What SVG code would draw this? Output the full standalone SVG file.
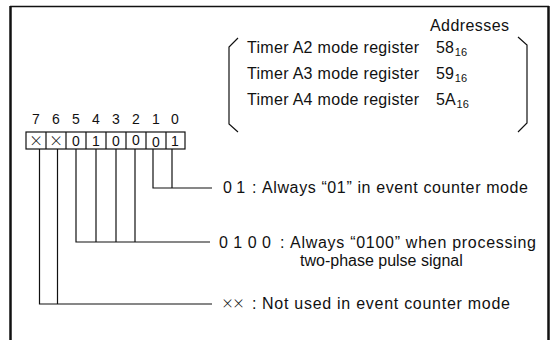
<svg xmlns="http://www.w3.org/2000/svg" width="556" height="340" viewBox="0 0 556 340">
<style>
  text { font-family: "Liberation Sans", Arial, sans-serif; fill: #111; }
  .t { font-size: 16px; }
  .sub { font-size: 11px; }
  .bit { font-size: 14px; text-anchor: middle; }
  .x { font-family: "Lato", "DejaVu Sans", sans-serif; font-weight: 300; font-size: 21px; text-anchor: middle; }
  .ln { stroke: #111; stroke-width: 1.2; fill: none; }
  .frame { stroke: #111; fill: none; }
</style>
<rect width="556" height="340" fill="#fff"/>
<g id="frame">
  <line class="frame" x1="10" y1="6.5" x2="549" y2="6.5" stroke-width="1.5"/>
  <line class="frame" x1="10.5" y1="6" x2="10.5" y2="340" stroke-width="2.5"/>
  <line class="frame" x1="548.5" y1="6" x2="548.5" y2="340" stroke-width="2.5"/>
</g>
<g id="addresses">
  <text class="t" x="430" y="31" textLength="79" lengthAdjust="spacing">Addresses</text>
  <path class="ln" d="M238,38 L229,47 L229,124 L238,132"/>
  <path class="ln" d="M518,37 L527,45 L527,123 L518,132"/>
  <text class="t" x="247" y="53" textLength="172" lengthAdjust="spacing">Timer A2 mode register</text>
  <text class="t" x="436" y="53">58<tspan class="sub" dx="1" dy="3">16</tspan></text>
  <text class="t" x="247" y="79" textLength="172" lengthAdjust="spacing">Timer A3 mode register</text>
  <text class="t" x="436" y="79">59<tspan class="sub" dx="1" dy="3">16</tspan></text>
  <text class="t" x="247" y="105" textLength="172" lengthAdjust="spacing">Timer A4 mode register</text>
  <text class="t" x="436" y="105">5A<tspan class="sub" dx="1" dy="3">16</tspan></text>
</g>
<g id="register">
  <text class="bit" x="36" y="124">7</text>
  <text class="bit" x="56" y="124">6</text>
  <text class="bit" x="76" y="124">5</text>
  <text class="bit" x="96" y="124">4</text>
  <text class="bit" x="116" y="124">3</text>
  <text class="bit" x="136" y="124">2</text>
  <text class="bit" x="156" y="124">1</text>
  <text class="bit" x="175" y="124">0</text>
  <rect class="ln" x="26" y="132" width="159" height="17"/>
  <path class="ln" d="M46,132 V149 M66,132 V149 M86,132 V149 M106,132 V149 M126,132 V149 M146,132 V149 M166,132 V149"/>
  <text class="x" x="36" y="147.5">×</text>
  <text class="x" x="56" y="147.5">×</text>
  <text class="bit" x="76" y="146">0</text>
  <text class="bit" x="96" y="146">1</text>
  <text class="bit" x="116" y="146">0</text>
  <text class="bit" x="136" y="145">0</text>
  <text class="bit" x="156" y="147">0</text>
  <text class="bit" x="175" y="146">1</text>
</g>
<g id="connectors">
  <path class="ln" d="M172,149 V188 M153,149 V188 H212"/>
  <path class="ln" d="M135,149 V242 M116,149 V242 M96,149 V242 M76,149 V242 H210"/>
  <path class="ln" d="M57.5,149 V304 M39.5,149 V304 H212"/>
</g>
<g id="note-01">
  <text class="t" x="223" y="193">0 1</text>
  <text class="t" x="252" y="193">:</text>
  <text class="t" x="262" y="193" textLength="266" lengthAdjust="spacing">Always “01” in event counter mode</text>
</g>
<g id="note-0100">
  <text class="t" x="219" y="248" textLength="52" lengthAdjust="spacing">0 1 0 0</text>
  <text class="t" x="280" y="248">:</text>
  <text class="t" x="290" y="248" textLength="246" lengthAdjust="spacing">Always “0100” when processing</text>
  <text class="t" x="300" y="266">two-phase pulse</text>
  <text class="t" x="421" y="266">signal</text>
</g>
<g id="note-xx">
  <text class="x" x="233" y="310" style="font-size:19px">××</text>
  <text class="t" x="252" y="309">:</text>
  <text class="t" x="262" y="309" textLength="248" lengthAdjust="spacing">Not used in event counter mode</text>
</g>
</svg>
